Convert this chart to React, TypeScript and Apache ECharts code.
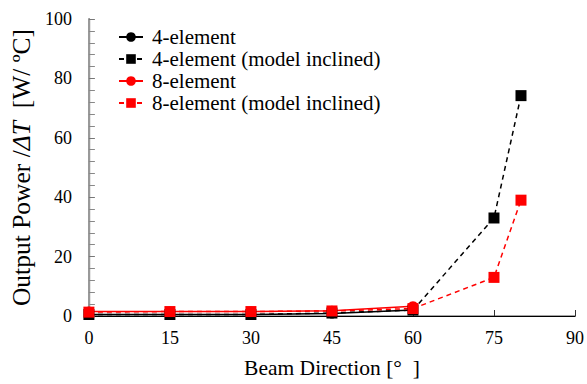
import React, { useEffect, useRef } from "react";
import * as echarts from "echarts";

const angles = [0, 15, 30, 45, 60, 75, 80];
const elem4 = [0.5, 0.5, 0.5, 0.8, 2.0];
const elem4Inclined = [0.5, 0.5, 0.5, 1.0, 2.0, 33, 74.2];
const elem8 = [1.5, 1.5, 1.5, 1.8, 3.3];
const elem8Inclined = [1.3, 1.5, 1.5, 1.7, 2.5, 13, 39];
const seriesNames = ["4-element", "4-element (model inclined)", "8-element", "8-element (model inclined)"];

const FONT = "Liberation Serif, Times New Roman, serif";

function pairs(vals: number[]) {
  return vals.map((v, i) => [angles[i], v]);
}

export default function App() {
  const ref = useRef<HTMLDivElement>(null);
  useEffect(() => {
    if (!ref.current) return;
    const chart = echarts.init(ref.current, undefined, { renderer: "svg" });
    const mk = (name: string, data: number[], color: string, symbol: string, dashed: boolean, size: number) => ({
      name,
      type: "line",
      data: pairs(data),
      symbol,
      symbolSize: size,
      itemStyle: { color },
      lineStyle: { color, width: 1.5, type: dashed ? [5, 4] : "solid" },
      z: 3,
    });
    chart.setOption({
      animation: false,
      backgroundColor: "#fff",
      textStyle: { fontFamily: FONT },
      grid: { left: 86, right: 12, top: 19, bottom: 64 },
      legend: {
        orient: "vertical",
        left: 113,
        top: 21,
        itemWidth: 24,
        itemHeight: 12,
        itemGap: 0,
        data: seriesNames,
        textStyle: { fontFamily: FONT, fontSize: 21, lineHeight: 22, color: "#000", padding: [0, 0, 0, 4] },
      },
      xAxis: [
        {
          type: "value",
          min: 0,
          max: 90,
          interval: 15,
          name: "Beam Direction [°  ]",
          nameLocation: "middle",
          nameGap: 41,
          nameTextStyle: { fontFamily: FONT, fontSize: 21.5, color: "#000" },
          axisLine: { lineStyle: { color: "#888", width: 1.5 } },
          axisTick: { inside: true, length: 6, lineStyle: { color: "#333" } },
          axisLabel: { fontFamily: FONT, fontSize: 18, color: "#000", margin: 13 },
          splitLine: { show: false },
        },
        {
          type: "value",
          position: "top",
          min: 0,
          max: 90,
          axisLine: { show: true, lineStyle: { color: "#000", width: 1.2 } },
          axisTick: { show: false },
          axisLabel: { show: false },
          splitLine: { show: false },
        },
      ],
      yAxis: [
        {
          type: "value",
          min: 0,
          max: 100,
          interval: 20,
          name: "Output Power /{i|ΔT}  [W/ ºC]",
          nameLocation: "middle",
          nameGap: 50,
          nameTextStyle: {
            fontFamily: FONT,
            fontSize: 25.5,
            color: "#000",
            rich: { i: { fontFamily: FONT, fontSize: 25.5, fontStyle: "italic", color: "#000" } },
          },
          axisLine: { show: true, lineStyle: { color: "#000", width: 1.2 } },
          axisTick: { inside: true, length: 6, lineStyle: { color: "#777" } },
          minorTick: { show: true, splitNumber: 5, length: 6, lineStyle: { color: "#888" } },
          axisLabel: { fontFamily: FONT, fontSize: 18, color: "#000", margin: 17 },
          splitLine: { show: false },
        },
        {
          type: "value",
          position: "right",
          min: 0,
          max: 100,
          axisLine: { show: true, lineStyle: { color: "#999", width: 2 } },
          axisTick: { show: false },
          axisLabel: { show: false },
          splitLine: { show: false },
        },
      ],
      series: [
        mk(seriesNames[0], elem4, "#000", "circle", false, 10),
        mk(seriesNames[1], elem4Inclined, "#000", "rect", true, 11),
        mk(seriesNames[2], elem8, "#ff0000", "circle", false, 10),
        mk(seriesNames[3], elem8Inclined, "#ff0000", "rect", true, 11),
      ],
    });
    return () => chart.dispose();
  }, []);
  return <div ref={ref} style={{ position: "absolute", left: 0, top: 0, width: 587, height: 384 }} />;
}
